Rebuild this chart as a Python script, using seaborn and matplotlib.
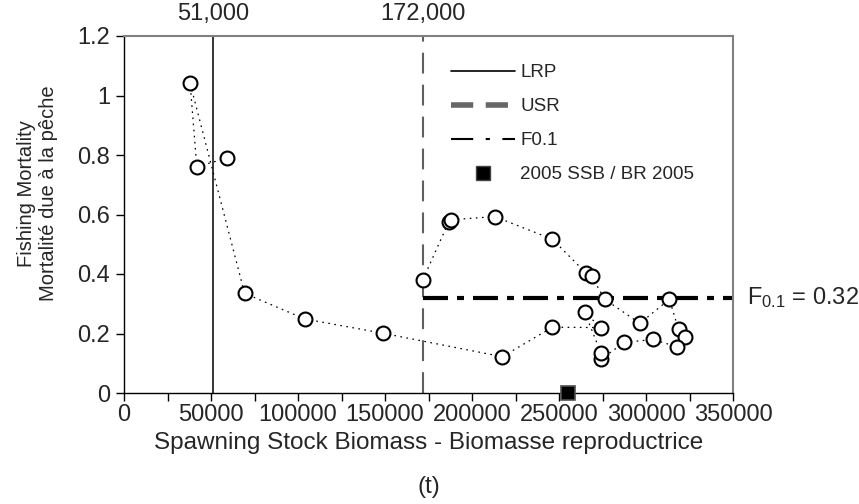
import matplotlib
matplotlib.use("Agg")
import matplotlib.pyplot as plt
import seaborn as sns
import pandas as pd
from matplotlib.lines import Line2D

# ---------------- data ----------------
ssb = [171700, 186700, 187700, 213000, 246200, 265400, 268700, 276300,
       296500, 313400, 318700, 322500, 317600, 303800, 287500, 274000,
       274000, 264800, 274000, 246200, 217400, 148700, 103800, 69300,
       38000, 41850, 59100]
fmort = [0.380, 0.576, 0.582, 0.593, 0.517, 0.404, 0.393, 0.315,
         0.234, 0.315, 0.214, 0.187, 0.156, 0.180, 0.170, 0.113,
         0.136, 0.271, 0.220, 0.221, 0.122, 0.201, 0.249, 0.335,
         1.041, 0.761, 0.789]
lrp = 51000
usr = 172000
f01 = 0.32
ssb_2005 = 255000
f_2005 = 0.0
x_ticks = [0, 50000, 100000, 150000, 200000, 250000, 300000, 350000]
x_ticklabels = ["0", "50000", "100000", "150000", "200000", "250000", "300000", "350000"]
y_ticks = [0, 0.2, 0.4, 0.6, 0.8, 1.0, 1.2]
y_ticklabels = ["0", "0.2", "0.4", "0.6", "0.8", "1", "1.2"]
top_ticks = [lrp, usr]
top_ticklabels = ["51,000", "172,000"]
legend_labels = ["LRP", "USR", "F0.1", "2005 SSB / BR 2005"]

df = pd.DataFrame({"ssb": ssb, "f": fmort})

sns.set_theme(style="white")
plt.rcParams["font.family"] = ["Liberation Sans", "DejaVu Sans"]
plt.rcParams["mathtext.fontset"] = "custom"
plt.rcParams["mathtext.rm"] = "Liberation Sans"
plt.rcParams["mathtext.it"] = "Liberation Sans:italic"
plt.rcParams["lines.scale_dashes"] = False

fig = plt.figure(figsize=(8.59, 5.04), dpi=100)
ax = fig.add_axes([124 / 859, 1 - 393 / 504, (733 - 124) / 859, (393 - 36) / 504])

# reference lines
ax.axvline(lrp, color="black", lw=1.1, zorder=1)
ax.axvline(usr, color="#606060", lw=1.5, dashes=(15, 8), zorder=1)
ax.plot([usr, 350000], [f01, f01], color="black", lw=3, dashes=(18, 6.5, 5, 6.5), zorder=1)

# trajectory
sns.lineplot(data=df, x="ssb", y="f", sort=False, estimator=None, ax=ax,
             color="black", lw=0.9, dashes=False, zorder=2)
ax.lines[-1].set_dashes((1.2, 3.2))
sns.scatterplot(data=df, x="ssb", y="f", ax=ax, s=100, marker="o",
                facecolor="white", edgecolor="black", linewidth=1.5, zorder=3)

# 2005 SSB marker
ax.plot([ssb_2005], [f_2005], marker="s", markersize=9.5, color="black",
        markeredgecolor="#505050", markeredgewidth=1.2, linestyle="None",
        clip_on=False, zorder=5)

ax.set_xlim(0, 350000)
ax.set_ylim(0, 1.2)
ax.set_xticks(x_ticks)
ax.set_xticklabels(x_ticklabels)
ax.set_xticks([v + 25000 for v in x_ticks[:-1]], minor=True)
ax.set_yticks(y_ticks)
ax.set_yticklabels(y_ticklabels)
ax.tick_params(axis="both", which="both", direction="out", length=6, width=1,
               color="black", labelsize=17, bottom=True, left=True)
ax.tick_params(axis="y", pad=4)
ax.tick_params(axis="x", pad=2)

for side in ["left", "bottom"]:
    ax.spines[side].set_color("black")
    ax.spines[side].set_linewidth(1.0)
for side in ["top", "right"]:
    ax.spines[side].set_color("#808080")
    ax.spines[side].set_linewidth(1.5)

ax.set_xlabel("Spawning Stock Biomass - Biomasse reproductrice\n(t)", fontsize=17.5,
              linespacing=2.3)
ax.xaxis.set_label_coords(0.5, -0.108, transform=ax.transAxes)
ax.xaxis.label.set_va("top")
ax.set_ylabel("Fishing Mortality\nMortalité due à la pêche", fontsize=14.5)
ax.yaxis.set_label_coords(-0.108, 0.56, transform=ax.transAxes)

# top axis labels
ax2 = ax.twiny()
ax2.set_xlim(ax.get_xlim())
ax2.set_xticks(top_ticks)
ax2.set_xticklabels(top_ticklabels)
ax2.tick_params(axis="x", length=0, labelsize=17, pad=8)
for s in ax2.spines.values():
    s.set_visible(False)

# F0.1 annotation
ax.text(358000, f01, "F$_{0.1}$ = 0.32", fontsize=17, va="center", ha="left", clip_on=False)

# legend
handles = [
    Line2D([], [], color="black", lw=1.2),
    Line2D([], [], color="#666666", lw=4, dashes=(16, 9)),
    Line2D([], [], color="black", lw=1.5, dashes=(16, 9, 3, 9)),
    Line2D([], [], marker="s", markersize=10, color="black", markeredgecolor="#444444",
           linestyle="None"),
]
fig.legend(handles, legend_labels, loc="upper left",
           bbox_to_anchor=(451 / 859, 1 - 64 / 504), bbox_transform=fig.transFigure,
           frameon=False, fontsize=13.5, handlelength=3.4, handletextpad=0.3,
           labelspacing=0.9, borderpad=0, borderaxespad=0)

fig.savefig("out.png", dpi=100)
